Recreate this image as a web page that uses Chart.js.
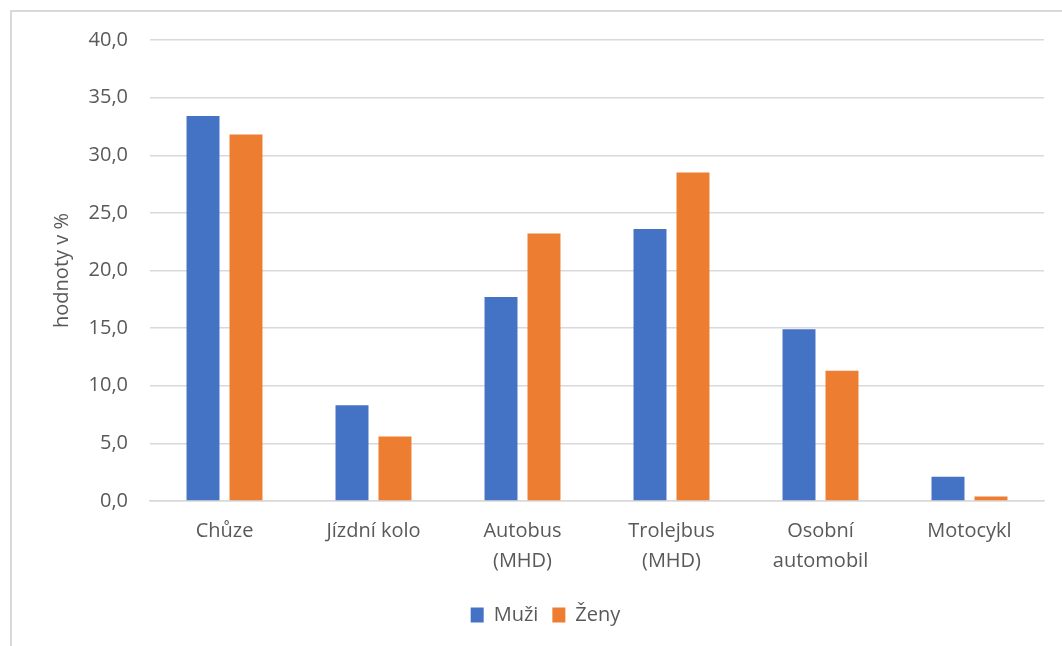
<!DOCTYPE html>
<html>
<head>
<meta charset="utf-8">
<script src="https://cdn.jsdelivr.net/npm/chart.js@4"></script>
<style>
    body { margin: 0; background: #fff; overflow: hidden; }
    #frame {
        position: absolute; left: 10px; top: 10px;
        width: 1200px; height: 800px;
        border: 2px solid #d9d9d9;
    }
    #chart { position: absolute; left: 0; top: 0; }
</style>
</head>
<body>
<div id="frame"></div>
<canvas id="chart" width="1062" height="646"></canvas>
<script>
// data
const categories = ['Chůze', 'Jízdní kolo', ['Autobus', '(MHD)'], ['Trolejbus', '(MHD)'], ['Osobní', 'automobil'], 'Motocykl'];
const muzi = [33.4, 8.3, 17.7, 23.6, 14.9, 2.1];
const zeny = [31.8, 5.6, 23.2, 28.5, 11.3, 0.4];
const yTicks = [0, 5, 10, 15, 20, 25, 30, 35, 40];

const textColor = '#595959';
const gridColor = '#d9d9d9';
const font = 'Open Sans';

const ctx = document.getElementById('chart').getContext('2d');
new Chart(ctx, {
    type: 'bar',
    data: {
        labels: categories,
        datasets: [{
            label: 'Muži',
            data: muzi,
            backgroundColor: '#4472c4',
            categoryPercentage: 0.577,
            barPercentage: 0.767
        }, {
            label: 'Ženy',
            data: zeny,
            backgroundColor: '#ed7d31',
            categoryPercentage: 0.577,
            barPercentage: 0.767
        }]
    },
    options: {
        responsive: false,
        animation: false,
        devicePixelRatio: 1,
        layout: {
            padding: { top: 40, right: 18, bottom: 11, left: 47 }
        },
        plugins: {
            title: { display: false },
            tooltip: { enabled: false },
            legend: {
                position: 'bottom',
                labels: {
                    boxWidth: 13,
                    boxHeight: 15,
                    padding: 14,
                    color: textColor,
                    font: { family: font, size: 20 }
                }
            }
        },
        scales: {
            x: {
                grid: { display: false, drawTicks: false },
                border: { display: true, color: gridColor, width: 1.5 },
                ticks: {
                    color: textColor,
                    padding: 15,
                    maxRotation: 0,
                    autoSkip: false,
                    font: { family: font, size: 20, lineHeight: 1.5 }
                }
            },
            y: {
                min: 0,
                max: 40,
                afterFit: scale => { scale.width = 103; },
                afterBuildTicks: scale => { scale.ticks = yTicks.map(v => ({ value: v })); },
                grid: { color: gridColor, lineWidth: 1.5, drawTicks: false },
                border: { display: false },
                ticks: {
                    color: textColor,
                    padding: 22,
                    font: { family: font, size: 20 },
                    callback: v => v.toFixed(1).replace('.', ',')
                },
                title: {
                    display: true,
                    text: 'hodnoty v %',
                    color: textColor,
                    padding: { top: 3, bottom: 0 },
                    font: { family: font, size: 20 }
                }
            }
        }
    }
});
</script>
</body>
</html>
